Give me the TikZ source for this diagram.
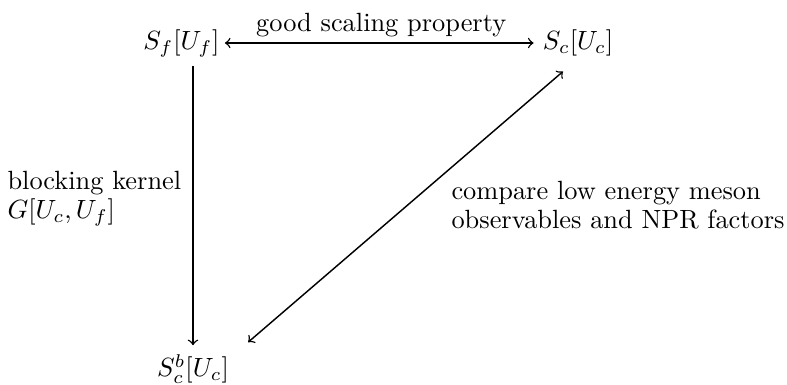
\documentclass[tikz,border=0pt]{standalone}
\usetikzlibrary{calc}
\begin{document}
\begin{tikzpicture}[x={(0.37936pt,0)},y={(0,-0.37936pt)},
  obj/.style={inner sep=3.33pt},
  lbl/.style={inner sep=0pt,align=left,anchor=north west},
  conn/.style={line width=0.55pt}]
\useasboundingbox (0,0) rectangle (787,384);
\node[obj] (Sf) at (181.5,43) {$S_f[U_f]$};
\node[obj] (Sc) at (578,43) {$S_c[U_c]$};
\node[obj] (Sb) at (193,369) {$S_c^b[U_c]$};
\draw[conn,<->,shorten <=-1.5pt] (Sf) -- node[above,inner sep=2pt] (top) {good scaling property} (Sc);
\draw[conn,->] (Sb.north |- Sf.south) -- (Sb.north);
\coordinate (d1) at ([shift={(10,-3)}]Sb.north east);
\coordinate (d2) at ([shift={(-15,6)}]Sc.south);
\draw[conn,<->] (d1) -- (d2);
\node[lbl] (left) at (7,171) {blocking kernel\\[-1.2pt]$G[U_c,U_f]$};
\node[lbl] (right) at (451,181) {compare low energy meson\\[-1.2pt]observables and NPR factors};
\end{tikzpicture}
\end{document}
